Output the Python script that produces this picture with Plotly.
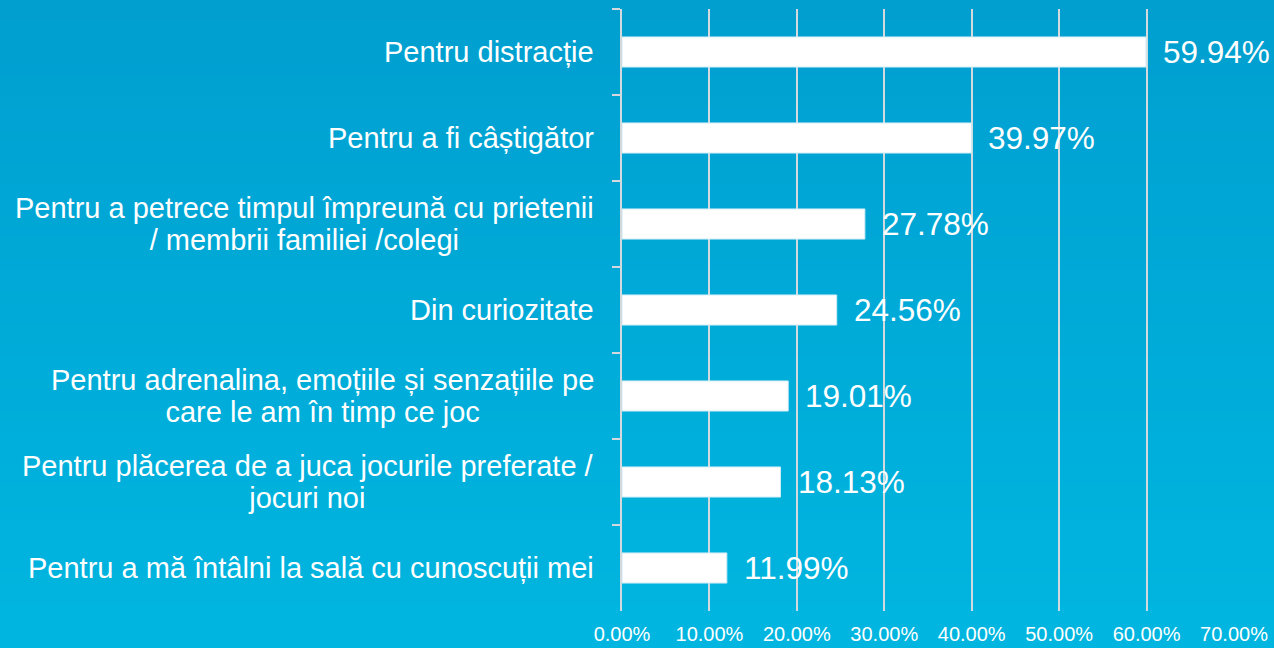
import plotly.graph_objects as go

categories = [
    "Pentru distracție",
    "Pentru a fi câștigător",
    "Pentru a petrece timpul împreună cu prietenii<br>/ membrii familiei /colegi",
    "Din curiozitate",
    "Pentru adrenalina, emoțiile și senzațiile pe<br>care le am în timp ce joc",
    "Pentru plăcerea de a juca jocurile preferate /<br>jocuri noi",
    "Pentru a mă întâlni la sală cu cunoscuții mei",
]
values = [59.94, 39.97, 27.78, 24.56, 19.01, 18.13, 11.99]
value_labels = ["59.94%", "39.97%", "27.78%", "24.56%", "19.01%", "18.13%", "11.99%"]
x_ticks = [0, 10, 20, 30, 40, 50, 60, 70]
x_tick_labels = ["0.00%", "10.00%", "20.00%", "30.00%", "40.00%", "50.00%", "60.00%", "70.00%"]

W, H = 1274, 648
ML, MR, MT, MB = 622, 40, 9, 37
PW, PH = W - ML - MR, H - MT - MB

FONT = "Liberation Sans, Arial, sans-serif"
GRID = "#d3dadd"

fig = go.Figure()
fig.add_trace(go.Bar(
    y=categories,
    x=values,
    orientation="h",
    marker=dict(color="#ffffff", line=dict(color="#cdebf5", width=1)),
    width=0.35,
    hoverinfo="x+y",
    cliponaxis=False,
))

# gradient background strips
shapes = []
n = 60
top = (0, 159, 208)
bot = (0, 182, 224)
for i in range(n):
    t = i / (n - 1)
    c = tuple(round(top[k] + (bot[k] - top[k]) * t) for k in range(3))
    py0 = i * H / n
    py1 = (i + 1) * H / n + 1
    y0 = 1 - (py0 - MT) / PH
    y1 = 1 - (py1 - MT) / PH
    shapes.append(dict(type="rect", xref="paper", yref="paper",
                       x0=-ML / PW - 0.05, x1=1 + MR / PW + 0.05, y0=y1, y1=y0,
                       fillcolor="rgb(%d,%d,%d)" % c, line=dict(width=0), layer="below"))

annotations = []
for cat in categories:
    styled = "<br>".join('<span style="font-size:29px">%s</span>' % part for part in cat.split("<br>"))
    annotations.append(dict(xref="paper", yref="y", x=0, y=cat, xanchor="right", xshift=-26,
                            text=styled, showarrow=False, align="center",
                            font=dict(family=FONT, size=24.5, color="#ffffff")))
for cat, v, lab in zip(categories, values, value_labels):
    annotations.append(dict(xref="x", yref="y", x=v, y=cat, xanchor="left", xshift=15,
                            text=lab, showarrow=False,
                            font=dict(family=FONT, size=31.5, color="#ffffff")))

fig.update_layout(
    width=W, height=H,
    margin=dict(l=ML, r=MR, t=MT, b=MB, pad=0, autoexpand=False),
    paper_bgcolor="#00a8d8",
    plot_bgcolor="rgba(0,0,0,0)",
    showlegend=False,
    shapes=shapes,
    annotations=annotations,
    xaxis=dict(range=[0, 70], tickvals=x_ticks, ticktext=x_tick_labels, automargin=False,
               showgrid=True, gridcolor=GRID, gridwidth=1.5, zeroline=False,
               showline=False, ticks="outside", ticklen=5, tickcolor="rgba(0,0,0,0)",
               tickfont=dict(family=FONT, size=20, color="#ffffff"),
               fixedrange=True),
    yaxis=dict(categoryorder="array", categoryarray=categories, autorange="reversed",
               automargin=False,
               tickson="boundaries", ticks="outside", ticklen=8, tickwidth=1.5, tickcolor=GRID,
               showticklabels=False, showline=True, linecolor=GRID, linewidth=1.5,
               showgrid=False, fixedrange=True),
)

fig.write_html("out.html", config={"displayModeBar": False},
               post_script="document.body.style.margin='0px';document.body.style.overflow='hidden';")
